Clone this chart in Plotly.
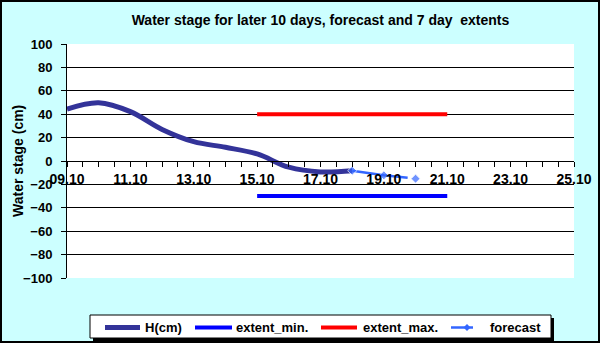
import plotly.graph_objects as go

# Observed water stage, daily (cm)
h_dates = ["2008-10-09", "2008-10-10", "2008-10-11", "2008-10-12", "2008-10-13",
           "2008-10-14", "2008-10-15", "2008-10-16", "2008-10-17", "2008-10-18"]
h_values = [44.4, 49.8, 42.2, 27.0, 16.5, 11.7, 6.0, -5.3, -9.3, -8.3]

# 7-day extents (cm)
extent_dates = ["2008-10-15", "2008-10-21"]
extent_min = [-30, -30]
extent_max = [40, 40]

# Forecast (cm); None splits the line
fc_dates = ["2008-10-18 00:00", "2008-10-19 00:00", "2008-10-19 18:00", None, "2008-10-20 00:00"]
fc_values = [-8.3, -12.2, -14.3, None, -15.1]
fc_marker_sizes = [7, 7, 0, 0, 7]

series_names = ["H(cm)", "extent_min.", "extent_max.", "forecast"]

x_range = ["2008-10-09", "2008-10-25"]
y_ticks = list(range(-100, 101, 20))

title_text = "Water stage for later 10 days, forecast and 7 day  extents"
y_title = "Water stage (cm)"

FONT = "Arial, Liberation Sans, sans-serif"
DAY_MS = 86400000

# plot area in pixels
W, H = 600, 343
L, R, T, B = 67, 26, 44, 65
PW, PH = W - L - R, H - T - B


def px_x(px):
    return (px - L) / PW


def px_y(py):
    return (H - B - py) / PH


styles = [
    dict(color="#333399", width=5),
    dict(color="#0000FF", width=4),
    dict(color="#FF0000", width=4),
    dict(color="#3366FF", width=2.5),
]

fig = go.Figure()

fig.add_trace(go.Scatter(
    x=h_dates, y=h_values, name=series_names[0], mode="lines",
    line=dict(**styles[0], shape="spline", smoothing=1.0),
))
fig.add_trace(go.Scatter(
    x=extent_dates, y=extent_min, name=series_names[1], mode="lines",
    line=styles[1],
))
fig.add_trace(go.Scatter(
    x=extent_dates, y=extent_max, name=series_names[2], mode="lines",
    line=styles[2],
))
fig.add_trace(go.Scatter(
    x=fc_dates, y=fc_values, name=series_names[3], mode="lines+markers",
    line=styles[3],
    marker=dict(symbol="diamond", size=fc_marker_sizes, color=styles[3]["color"]),
    connectgaps=False,
))

# ---- boxed legend with drop shadow, drawn below the plot ----
LEG_X0, LEG_X1, LEG_Y0, LEG_Y1 = 90, 551, 315, 338
LEG_MID = 327.5
SHADOW = 3
# (sample start, sample end, text left) in pixels for each entry
leg_slots = [(105, 140, 143), (195, 232, 234), (321, 357, 361), (451, 473, 488)]

shapes = [
    dict(type="rect", xref="paper", yref="paper",
         x0=px_x(LEG_X0 + SHADOW), x1=px_x(LEG_X1 + SHADOW),
         y0=px_y(LEG_Y1 + SHADOW), y1=px_y(LEG_Y0 + SHADOW),
         fillcolor="black", line=dict(width=0), layer="above"),
    dict(type="rect", xref="paper", yref="paper",
         x0=px_x(LEG_X0), x1=px_x(LEG_X1), y0=px_y(LEG_Y1), y1=px_y(LEG_Y0),
         fillcolor="white", line=dict(color="black", width=1), layer="above"),
]
annotations = []
for name, style, (s0, s1, tx) in zip(series_names, styles, leg_slots):
    shapes.append(dict(type="line", xref="paper", yref="paper",
                       x0=px_x(s0), x1=px_x(s1), y0=px_y(LEG_MID), y1=px_y(LEG_MID),
                       line=dict(color=style["color"], width=style["width"]), layer="above"))
    annotations.append(dict(text=name, xref="paper", yref="paper", x=px_x(tx), y=px_y(LEG_MID),
                            xanchor="left", yanchor="middle", showarrow=False,
                            font=dict(family=FONT, size=13, color="black", weight="bold")))

# diamond marker on the forecast sample
dx, dy, r = 467, LEG_MID, 3.5
shapes.append(dict(
    type="path", xref="paper", yref="paper",
    path=(f"M {px_x(dx)},{px_y(dy - r)} L {px_x(dx + r)},{px_y(dy)} "
          f"L {px_x(dx)},{px_y(dy + r)} L {px_x(dx - r)},{px_y(dy)} Z"),
    fillcolor=styles[3]["color"], line=dict(width=0), layer="above"))

# outer chart border
shapes.append(dict(type="rect", xref="paper", yref="paper",
                   x0=px_x(1), x1=px_x(599), y0=px_y(342), y1=px_y(1),
                   line=dict(color="black", width=2), fillcolor="rgba(0,0,0,0)",
                   layer="above"))

annotations.append(dict(text=y_title, xref="paper", yref="paper", x=px_x(18), y=0.5,
                        xanchor="center", yanchor="middle", textangle=-90, showarrow=False,
                        font=dict(family=FONT, size=14, color="black", weight="bold")))

fig.update_layout(
    width=W, height=H, autosize=False,
    margin=dict(l=L, r=R, t=T, b=B, pad=0, autoexpand=False),
    paper_bgcolor="#CCFFFF", plot_bgcolor="white",
    font=dict(family=FONT, color="black"),
    title=dict(text=title_text, x=(320.5) / W, xanchor="center",
               y=1 - 20 / H, yanchor="middle",
               font=dict(family=FONT, size=14, color="black", weight="bold")),
    showlegend=False,
    shapes=shapes,
    annotations=annotations,
    xaxis=dict(
        type="date", range=x_range, tick0="2008-10-09", dtick=2 * DAY_MS,
        tickformat="%d.%m", anchor="free", position=0.5,
        showline=True, linecolor="black", linewidth=1,
        ticks="outside", ticklen=5, tickcolor="black", tickwidth=1,
        minor=dict(dtick=DAY_MS / 2, ticks="outside", ticklen=5, tickcolor="black",
                   tickwidth=1, showgrid=False),
        showgrid=False, zeroline=False,
        tickfont=dict(family=FONT, size=14, color="black", weight="bold"),
    ),
    yaxis=dict(
        range=[-100, 100], tickvals=y_ticks,
        showline=True, linecolor="black", linewidth=1,
        ticks="outside", ticklen=5, tickcolor="black", tickwidth=1,
        showgrid=True, gridcolor="black", gridwidth=1, zeroline=False,
        ticklabelstandoff=6,
        tickfont=dict(family=FONT, size=13, color="black", weight="bold"),
    ),
)

fig.write_html("out.html")
